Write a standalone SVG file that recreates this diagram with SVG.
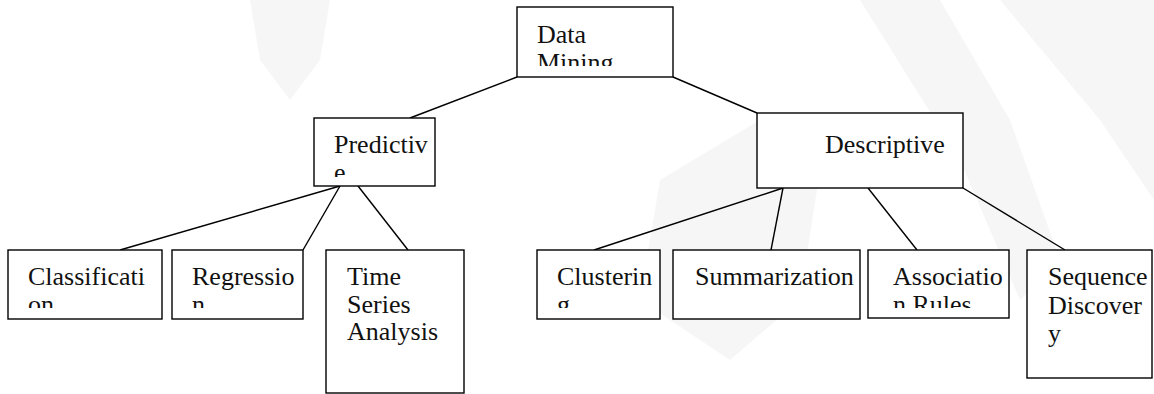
<svg xmlns="http://www.w3.org/2000/svg" width="1154" height="394" viewBox="0 0 1154 394">
<style>
.box{fill:#fff;stroke:#000;stroke-width:1.4}
text{font-family:"Liberation Serif","Times New Roman",Tinos,"DejaVu Serif",serif;font-size:26px;fill:#111}
.c{stroke:#000;stroke-width:1.4;fill:none}
.wm{fill:#f6f6f6}
</style>
<defs>
<clipPath id="cDM"><rect x="518" y="8" width="154" height="58"/></clipPath>
<clipPath id="cPR"><rect x="315" y="119" width="119" height="58"/></clipPath>
<clipPath id="cCL"><rect x="9" y="251" width="152" height="57"/></clipPath>
<clipPath id="cRE"><rect x="173" y="251" width="129" height="57"/></clipPath>
<clipPath id="cCU"><rect x="538" y="251" width="121" height="57"/></clipPath>
<clipPath id="cAS"><rect x="869" y="251" width="139" height="57"/></clipPath>
</defs>
<g id="watermark">
<path class="wm" d="M250 0 L330 0 L320 60 L290 100 L260 60 Z"/>
<path class="wm" d="M860 0 L940 0 L1010 120 L1060 260 L1020 300 L960 160 Z"/>
<path class="wm" d="M1000 0 L1154 0 L1154 200 L1100 120 Z"/>
<path class="wm" d="M660 180 L760 120 L820 170 L800 300 L730 360 L640 300 Z"/>
</g>
<g id="connectors">
<line class="c" x1="517" y1="77" x2="410" y2="118"/>
<line class="c" x1="673" y1="77" x2="757" y2="113"/>
<line class="c" x1="340" y1="186" x2="120" y2="250"/>
<line class="c" x1="340" y1="186" x2="303" y2="250"/>
<line class="c" x1="358" y1="186" x2="408" y2="250"/>
<line class="c" x1="783" y1="188" x2="594" y2="250"/>
<line class="c" x1="783" y1="188" x2="771" y2="250"/>
<line class="c" x1="868" y1="188" x2="917" y2="250"/>
<line class="c" x1="963" y1="188" x2="1065" y2="250"/>
</g>
<g id="data-mining">
<rect class="box" x="517" y="7" width="156" height="70"/>
<text clip-path="url(#cDM)"><tspan x="537" y="43">Data</tspan><tspan x="537" y="71">Mining</tspan></text>
</g>
<g id="predictive">
<rect class="box" x="314" y="118" width="121" height="68"/>
<text clip-path="url(#cPR)"><tspan x="334" y="153">Predictiv</tspan><tspan x="334" y="181">e</tspan></text>
</g>
<g id="descriptive">
<rect class="box" x="757" y="113" width="206" height="75"/>
<text x="825" y="153">Descriptive</text>
</g>
<g id="classification">
<rect class="box" x="8" y="250" width="154" height="69"/>
<text clip-path="url(#cCL)"><tspan x="28" y="285">Classificati</tspan><tspan x="28" y="313">on</tspan></text>
</g>
<g id="regression">
<rect class="box" x="172" y="250" width="131" height="69"/>
<text clip-path="url(#cRE)"><tspan x="192" y="285">Regressio</tspan><tspan x="192" y="313">n</tspan></text>
</g>
<g id="time-series">
<rect class="box" x="326" y="250" width="138" height="143"/>
<text><tspan x="347" y="285">Time</tspan><tspan x="347" y="313">Series</tspan><tspan x="347" y="340">Analysis</tspan></text>
</g>
<g id="clustering">
<rect class="box" x="537" y="250" width="123" height="69"/>
<text clip-path="url(#cCU)"><tspan x="557" y="285">Clusterin</tspan><tspan x="557" y="313">g</tspan></text>
</g>
<g id="summarization">
<rect class="box" x="673" y="250" width="187" height="69"/>
<text x="695" y="285">Summarization</text>
</g>
<g id="association-rules">
<rect class="box" x="868" y="250" width="141" height="68"/>
<text clip-path="url(#cAS)"><tspan x="893" y="285">Associatio</tspan><tspan x="893" y="313">n Rules</tspan></text>
</g>
<g id="sequence-discovery">
<rect class="box" x="1027" y="250" width="125" height="128"/>
<text><tspan x="1048" y="285">Sequence</tspan><tspan x="1048" y="314">Discover</tspan><tspan x="1048" y="342">y</tspan></text>
</g>
</svg>
